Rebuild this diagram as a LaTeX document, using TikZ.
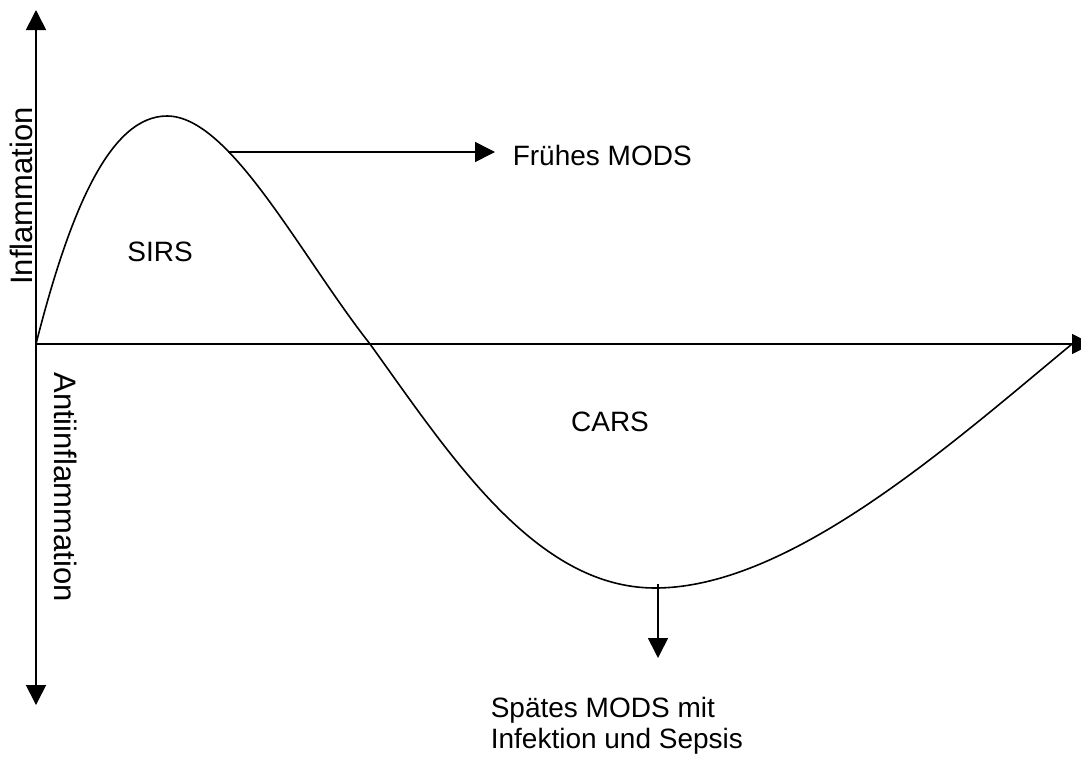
\documentclass[tikz,border=0pt]{standalone}
\usepackage{fontspec}
\setmainfont{Liberation Sans}
\usetikzlibrary{arrows.meta}
\begin{document}
\begin{tikzpicture}[x=1pt,y=-1pt,
  line width=1.6pt,
  arr/.style={-{Triangle[length=20pt,width=20pt]}},
  lbl/.style={font=\fontsize{28}{31}\selectfont, inner sep=0pt},
  vlbl/.style={font=\fontsize{31}{34}\selectfont, inner sep=0pt}]
\useasboundingbox (0,0) rectangle (1081,758);
\clip (0,0) rectangle (1081,758);
% axes
\coordinate (o) at (36,344);
\coordinate (ytop) at (36,10);
\coordinate (ybot) at (36,705);
\coordinate (xend) at (1092,344);
\draw[arr] (o) -- (ytop);
\draw[arr] (o) -- (ybot);
\draw[arr] (o) -- (xend);
% curve
\coordinate (peak) at (167,116);
\coordinate (cross) at (370,344);
\coordinate (min) at (655,588);
\coordinate (cend) at (1072,344);
\draw (o) .. controls (70,210) and (110,116) .. (peak)
      .. controls (230,116) and (300,255) .. (cross)
      .. controls (450,455) and (535,588) .. (min)
      .. controls (790,588) and (950,445) .. (cend);
% labels
\node[lbl] (sirs) at (160,252) {SIRS};
\node[lbl] (cars) at (610,422) {CARS};
\node[vlbl, rotate=90] (infl) at (21,196) {Inflammation};
\node[vlbl, rotate=-90] (anti) at (66,487) {Antiinflammation};
\node[lbl, anchor=west] (fruh) at (512,155) {Frühes MODS};
\node[lbl, anchor=base west, align=left] (spat) at (490,748) {Spätes MODS mit\\Infektion und Sepsis};
% arrows to labels
\coordinate (fa) at (228,152);
\coordinate (fb) at (495,152);
\draw[arr] (fa) -- (fb);
\coordinate (da) at (658,584);
\coordinate (db) at (658,658);
\draw[arr] (da) -- (db);
\end{tikzpicture}
\end{document}
